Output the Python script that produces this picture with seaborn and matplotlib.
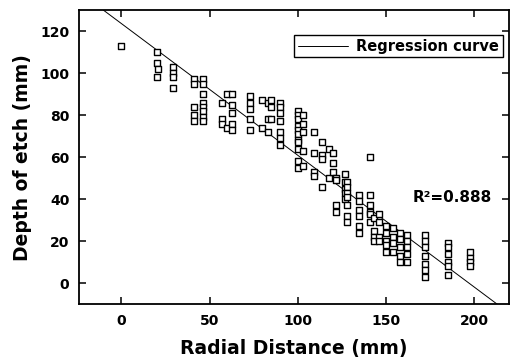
import matplotlib
matplotlib.use('Agg')
import matplotlib.pyplot as plt
import seaborn as sns
import numpy as np

# Data
radial = ([0] + [20] * 3 + [21] + [29] * 4 + [41] * 5 + [46] * 8 + [57] * 3 + [60] * 2
          + [63] * 5 + [73] * 5 + [80] * 2 + [83] * 3 + [85] * 3 + [90] * 7 + [100] * 11
          + [103] * 5 + [109] * 4 + [114] * 4 + [118] * 2 + [120] * 3 + [122] * 4
          + [127] * 5 + [128] * 7 + [135] * 6 + [141] * 6 + [143] * 4 + [146] * 4
          + [150] * 5 + [154] * 4 + [158] * 5 + [162] * 5 + [172] * 7 + [185] * 6 + [198] * 4)
depth = ([113]
         + [110, 105, 98] + [102]
         + [103, 100, 98, 93]
         + [97, 95, 84, 80, 77]
         + [97, 95, 90, 86, 84, 82, 79, 77]
         + [86, 78, 76] + [90, 74]
         + [90, 85, 81, 76, 73]
         + [89, 86, 83, 78, 73]
         + [87, 74] + [86, 78, 72] + [87, 84, 78]
         + [86, 84, 81, 77, 72, 69, 66]
         + [82, 80, 78, 75, 73, 71, 68, 67, 64, 58, 55]
         + [80, 76, 72, 63, 56]
         + [72, 62, 53, 51]
         + [67, 61, 59, 46]
         + [64, 50] + [62, 57, 53]
         + [50, 49, 37, 34]
         + [52, 48, 45, 43, 40]
         + [48, 46, 43, 41, 37, 32, 29]
         + [42, 39, 35, 32, 27, 24]
         + [60, 42, 37, 34, 33, 29]
         + [31, 25, 22, 20] + [33, 29, 22, 20]
         + [27, 24, 20, 18, 15]
         + [26, 22, 19, 15]
         + [24, 21, 17, 13, 10]
         + [23, 20, 17, 14, 10]
         + [23, 20, 17, 13, 9, 6, 3]
         + [19, 17, 14, 10, 8, 4]
         + [15, 12, 10, 8])

fit_intercept = 123.6
fit_slope = -0.627
r_squared = 0.888

x_ticks = [0, 50, 100, 150, 200]
y_ticks = [0, 20, 40, 60, 80, 100, 120]

sns.set_style('ticks')
plt.rcParams['font.family'] = ['DejaVu Sans']
plt.rcParams['font.weight'] = 'bold'
for key in ['text.color', 'axes.labelcolor', 'xtick.color', 'ytick.color', 'axes.edgecolor']:
    plt.rcParams[key] = 'black'

fig, ax = plt.subplots(figsize=(5.17, 3.62), dpi=100)
fig.subplots_adjust(left=0.153, right=0.985, top=0.972, bottom=0.160)

sns.scatterplot(x=radial, y=depth, marker='s', s=24, facecolor='white',
                edgecolor='black', linewidth=1.0, ax=ax, zorder=3)
ax.axline((0, fit_intercept), slope=fit_slope, color='black', lw=0.7,
          label='Regression curve', zorder=2)

ax.set_xlim(-24, 220)
ax.set_ylim(-10, 130)
ax.set_xticks(x_ticks)
ax.set_yticks(y_ticks)
ax.tick_params(direction='in', top=True, right=True, length=5, width=1.1,
               labelsize=10, pad=7)
for lab in ax.get_xticklabels() + ax.get_yticklabels():
    lab.set_fontweight('bold')
for sp in ax.spines.values():
    sp.set_linewidth(1.3)
    sp.set_color('black')

ax.set_xlabel('Radial Distance (mm)', fontsize=13.5, fontweight='bold', labelpad=8)
ax.set_ylabel('Depth of etch (mm)', fontsize=13.5, fontweight='bold', labelpad=6)

leg = ax.legend(loc='upper right', bbox_to_anchor=(0.985, 0.915), borderaxespad=0,
                fancybox=False, framealpha=1, edgecolor='black', fontsize=10.5,
                handlelength=3.4, borderpad=0.25, handletextpad=0.6)
leg.get_frame().set_linewidth(1.0)
for t in leg.get_texts():
    t.set_fontweight('bold')

ax.text(0.96, 0.364, f'R\u00b2={r_squared}', transform=ax.transAxes, ha='right',
        va='center', fontsize=11, fontweight='bold')

plt.savefig('out.png', dpi=100)
